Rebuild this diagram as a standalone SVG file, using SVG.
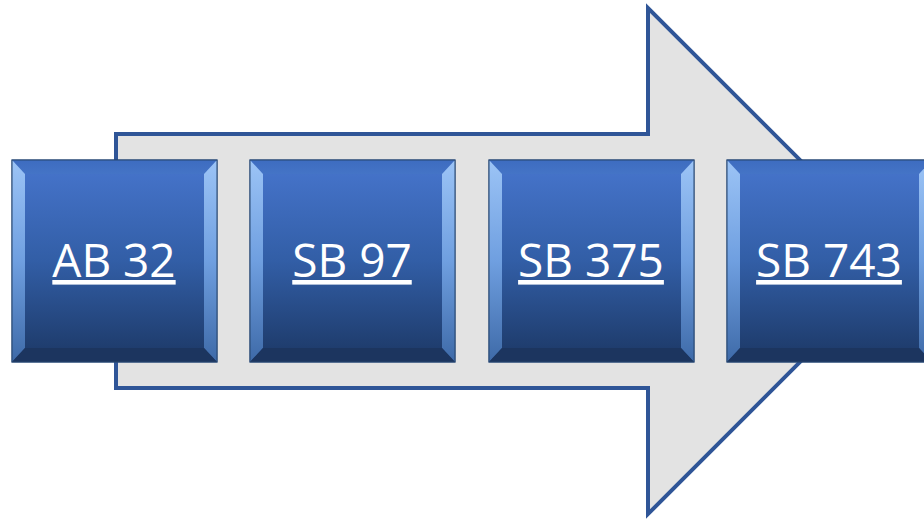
<svg xmlns="http://www.w3.org/2000/svg" width="924" height="520" viewBox="0 0 924 520">
<defs>
<linearGradient id="body" x1="0" y1="0" x2="0" y2="1">
<stop offset="0" stop-color="#4472c8"/>
<stop offset="0.5" stop-color="#325ea6"/>
<stop offset="1" stop-color="#1f3d6e"/>
</linearGradient>
<linearGradient id="side" x1="0" y1="0" x2="0" y2="1">
<stop offset="0" stop-color="#9cc4f6"/>
<stop offset="0.5" stop-color="#6f9fe0"/>
<stop offset="1" stop-color="#3e6aa8"/>
</linearGradient>
<linearGradient id="topf" x1="0" y1="0" x2="0" y2="1">
<stop offset="0" stop-color="#3d6cc0"/>
<stop offset="1" stop-color="#4474c6"/>
</linearGradient>
<g id="box">
<rect x="0" y="0" width="205" height="202" fill="url(#body)" stroke="#2a4f86" stroke-width="1"/>
<polygon points="0,0 205,0 192,14 13,14" fill="url(#topf)"/>
<polygon points="0,0 13,14 13,188 0,202" fill="url(#side)"/>
<polygon points="205,0 192,14 192,188 205,202" fill="url(#side)"/>
<polygon points="0,202 13,188 192,188 205,202" fill="#1c355f"/>
<rect x="13" y="14" width="179" height="174" fill="url(#body)"/>
<rect x="0" y="0" width="205" height="202" fill="none" stroke="#27466f" stroke-width="1"/>
</g>
</defs>
<style>
.lbl{font-family:"Open Sans","Liberation Sans",sans-serif;font-size:46px;fill:#ffffff;text-anchor:middle;text-decoration:underline}
.arrow{fill:#e3e3e3;stroke:#2f5597;stroke-width:4;stroke-linejoin:miter}
</style>
<g id="connectors">
<polygon class="arrow" points="116,134 648,134 648,8 901,261 648,514 648,388 116,388"/>
</g>
<g id="n1"><use href="#box" x="12" y="160"/><text class="lbl" x="114" y="277">AB 32</text></g>
<g id="n2"><use href="#box" x="250" y="160"/><text class="lbl" x="352" y="277">SB 97</text></g>
<g id="n3"><use href="#box" x="489" y="160"/><text class="lbl" x="591" y="277">SB 375</text></g>
<g id="n4"><use href="#box" x="727" y="160"/><text class="lbl" x="829" y="277">SB 743</text></g>
</svg>
